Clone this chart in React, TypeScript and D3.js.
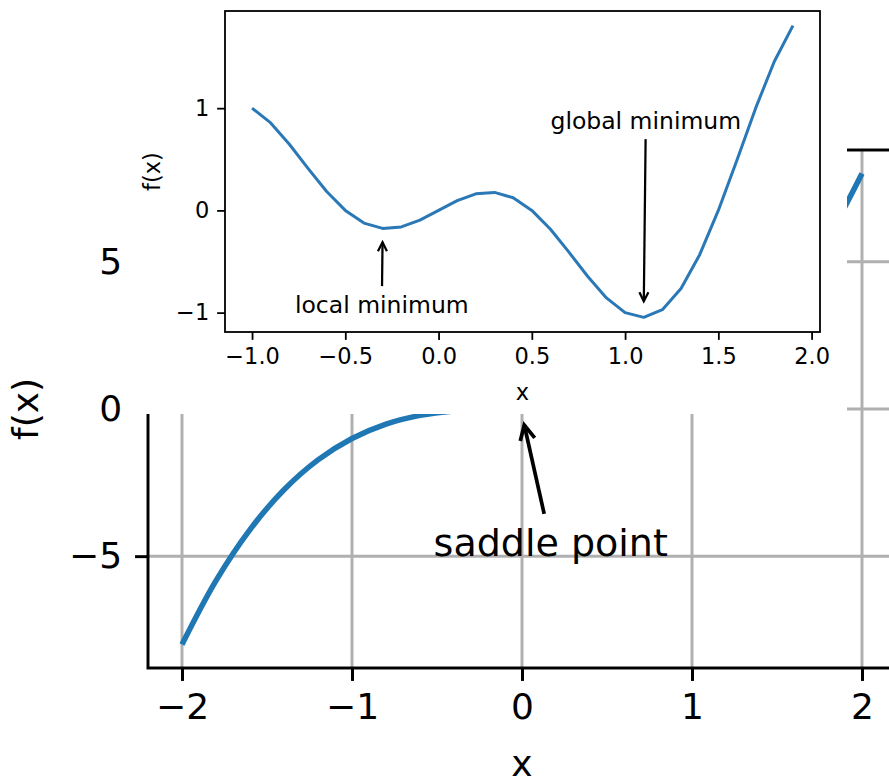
import React, { useEffect, useRef } from "react";
import * as d3 from "d3";

const W = 889;
const H = 780;
const FONT = "'DejaVu Sans', sans-serif";
const BLUE = "#1f77b4";
const GRID = "#b0b0b0";

// background plot: f(x) = x^3, sampled every 0.2
const saddleX = [-2, -1.8, -1.6, -1.4, -1.2, -1, -0.8, -0.6, -0.4, -0.2, 0, 0.2, 0.4, 0.6, 0.8, 1, 1.2, 1.4, 1.6, 1.8, 2];
const saddleY = [-8, -5.832, -4.096, -2.744, -1.728, -1, -0.512, -0.216, -0.064, -0.008, 0, 0.008, 0.064, 0.216, 0.512, 1, 1.728, 2.744, 4.096, 5.832, 8];
const saddleXTicks = [-2, -1, 0, 1, 2];
const saddleYTicks = [-5, 0, 5];

// inset plot: local vs global minimum
const insetX = [-1.0, -0.9, -0.8, -0.7, -0.6, -0.5, -0.4, -0.3, -0.2, -0.1, 0.0, 0.1, 0.2, 0.3, 0.4, 0.5, 0.6, 0.7, 0.8, 0.9, 1.0, 1.1, 1.2, 1.3, 1.4, 1.5, 1.6, 1.7, 1.8, 1.9];
const insetY = [1.0, 0.856, 0.647, 0.411, 0.185, 0.0, -0.124, -0.176, -0.162, -0.095, 0.0, 0.095, 0.162, 0.176, 0.124, 0.0, -0.185, -0.411, -0.647, -0.856, -1.0, -1.046, -0.971, -0.764, -0.433, 0.0, 0.494, 1.0, 1.456, 1.807];
const insetXTicks = [-1.0, -0.5, 0.0, 0.5, 1.0, 1.5, 2.0];
const insetYTicks = [-1, 0, 1];

const minus = (s: string) => s.replace("-", "\u2212");

// matplotlib style "->" annotation arrow from a text box to a point
function annotate(g: any, label: string, textPos: [number, number], target: [number, number], pt: number, fontSize: number) {
  const text = g
    .append("text")
    .attr("x", textPos[0])
    .attr("y", textPos[1])
    .attr("font-size", fontSize)
    .attr("fill", "#000")
    .text(label);
  const bb = text.node().getBBox();
  const cx = bb.x + bb.width / 2;
  const cy = bb.y + bb.height / 2;
  const [tx, ty] = target;
  const dx = tx - cx;
  const dy = ty - cy;
  const s = Math.min(
    dx !== 0 ? bb.width / 2 / Math.abs(dx) : Infinity,
    dy !== 0 ? bb.height / 2 / Math.abs(dy) : Infinity
  );
  const len = Math.hypot(dx, dy);
  const ux = dx / len;
  const uy = dy / len;
  const sx = cx + dx * s + ux * 2 * pt;
  const sy = cy + dy * s + uy * 2 * pt;
  const ex = tx - ux * 2.8 * pt;
  const ey = ty - uy * 2.8 * pt;
  const hl = 4 * pt;
  const hw = 2 * pt;
  const nx = -uy;
  const ny = ux;
  g.append("line")
    .attr("x1", sx).attr("y1", sy)
    .attr("x2", ex).attr("y2", ey)
    .attr("stroke", "#000")
    .attr("stroke-width", pt);
  g.append("path")
    .attr("d", `M${ex - ux * hl + nx * hw},${ey - uy * hl + ny * hw}L${ex},${ey}L${ex - ux * hl - nx * hw},${ey - uy * hl - ny * hw}`)
    .attr("fill", "none")
    .attr("stroke", "#000")
    .attr("stroke-width", pt);
}

function drawSaddle(g: any) {
  const pt = 3.7;
  const fs = 36;
  const x = d3.scaleLinear().domain([-2.2, 2.2]).range([148, 896]);
  const y = d3.scaleLinear().domain([-8.8, 8.8]).range([668, 150]);

  // grid
  g.selectAll(".vgrid")
    .data(saddleXTicks)
    .enter()
    .append("line")
    .attr("x1", (d: number) => x(d)).attr("x2", (d: number) => x(d))
    .attr("y1", y(-8.8)).attr("y2", y(8.8))
    .attr("stroke", GRID).attr("stroke-width", 0.8 * pt);
  g.selectAll(".hgrid")
    .data(saddleYTicks)
    .enter()
    .append("line")
    .attr("y1", (d: number) => y(d)).attr("y2", (d: number) => y(d))
    .attr("x1", x(-2.2)).attr("x2", x(2.2))
    .attr("stroke", GRID).attr("stroke-width", 0.8 * pt);

  const pts = saddleX.map((v, i) => [v, saddleY[i]] as [number, number]);
  g.append("path")
    .datum(pts)
    .attr("d", d3.line().x((d) => x(d[0])).y((d) => y(d[1])).curve(d3.curveCatmullRom))
    .attr("fill", "none")
    .attr("stroke", BLUE)
    .attr("stroke-width", 1.5 * pt);

  // axes
  const xAxis = g.append("g").attr("transform", `translate(0,${y(-8.8)})`)
    .call(d3.axisBottom(x).tickValues(saddleXTicks).tickSize(3.5 * pt).tickPadding(3.5 * pt).tickFormat((d: any) => minus(d3.format("d")(d))));
  const yAxis = g.append("g").attr("transform", `translate(${x(-2.2)},0)`)
    .call(d3.axisLeft(y).tickValues(saddleYTicks).tickSize(3.5 * pt).tickPadding(3.5 * pt).tickFormat((d: any) => minus(d3.format("d")(d))));
  [xAxis, yAxis].forEach((a) => {
    a.select(".domain").remove();
    a.selectAll("line").attr("stroke", "#000").attr("stroke-width", 0.8 * pt);
    a.selectAll("text").attr("font-size", fs).attr("font-family", FONT).attr("fill", "#000");
  });

  // spines
  g.append("rect")
    .attr("x", x(-2.2)).attr("y", y(8.8))
    .attr("width", x(2.2) - x(-2.2)).attr("height", y(-8.8) - y(8.8))
    .attr("fill", "none").attr("stroke", "#000").attr("stroke-width", 0.8 * pt);

  g.append("text").attr("x", x(0)).attr("y", 776).attr("text-anchor", "middle")
    .attr("font-size", fs).text("x");
  g.append("text").attr("transform", `translate(38,${(y(8.8) + y(-8.8)) / 2}) rotate(-90)`)
    .attr("text-anchor", "middle").attr("font-size", fs).text("f(x)");

  annotate(g, "saddle point", [x(-0.52), y(-5)], [x(0), y(-0.2)], pt, 38);
}

function drawInset(g: any) {
  const pt = 2.25;
  const fs = 22.5;
  const x = d3.scaleLinear().domain([-1.145, 2.045]).range([225, 820]);
  const y = d3.scaleLinear().domain([-1.1895, 1.9505]).range([332, 11]);

  const pts = insetX.map((v, i) => [v, insetY[i]] as [number, number]);
  g.append("path")
    .datum(pts)
    .attr("d", d3.line().x((d) => x(d[0])).y((d) => y(d[1])))
    .attr("fill", "none")
    .attr("stroke", "#2a78b6")
    .attr("stroke-width", 3)
    .attr("stroke-linejoin", "round");

  const xAxis = g.append("g").attr("transform", `translate(0,${y(-1.1895)})`)
    .call(d3.axisBottom(x).tickValues(insetXTicks).tickSize(3.5 * pt).tickPadding(3.5 * pt).tickFormat((d: any) => minus(d3.format(".1f")(d))));
  const yAxis = g.append("g").attr("transform", `translate(${x(-1.145)},0)`)
    .call(d3.axisLeft(y).tickValues(insetYTicks).tickSize(3.5 * pt).tickPadding(3.5 * pt).tickFormat((d: any) => minus(d3.format("d")(d))));
  [xAxis, yAxis].forEach((a) => {
    a.select(".domain").remove();
    a.selectAll("line").attr("stroke", "#000").attr("stroke-width", 0.8 * pt);
    a.selectAll("text").attr("font-size", fs).attr("font-family", FONT).attr("fill", "#000");
  });

  g.append("rect")
    .attr("x", x(-1.145)).attr("y", y(1.9505))
    .attr("width", x(2.045) - x(-1.145)).attr("height", y(-1.1895) - y(1.9505))
    .attr("fill", "none").attr("stroke", "#000").attr("stroke-width", 0.8 * pt);

  g.append("text").attr("x", (x(-1.145) + x(2.045)) / 2).attr("y", 400).attr("text-anchor", "middle")
    .attr("font-size", fs).text("x");
  g.append("text").attr("transform", `translate(160,${(y(1.9505) + y(-1.1895)) / 2}) rotate(-90)`)
    .attr("text-anchor", "middle").attr("font-size", fs).text("f(x)");

  annotate(g, "local minimum", [x(-0.77), y(-1.0)], [x(-0.3), y(-0.25)], pt, 23.5);
  annotate(g, "global minimum", [x(0.6), y(0.8)], [x(1.1), y(-0.95)], pt, 23.5);
}

export default function App() {
  const ref = useRef<SVGSVGElement>(null);

  useEffect(() => {
    const svg = d3.select(ref.current);
    svg.selectAll("*").remove();
    svg.append("rect").attr("width", W).attr("height", H).attr("fill", "#fff");

    drawSaddle(svg.append("g"));

    // the inset figure is pasted over the upper part of the saddle plot
    svg.append("rect").attr("x", 126).attr("y", 0).attr("width", 847 - 126).attr("height", 414).attr("fill", "#fff");

    drawInset(svg.append("g"));
  }, []);

  return (
    <svg
      ref={ref}
      width={W}
      height={H}
      style={{ position: "absolute", left: 0, top: 0, fontFamily: FONT }}
    />
  );
}
